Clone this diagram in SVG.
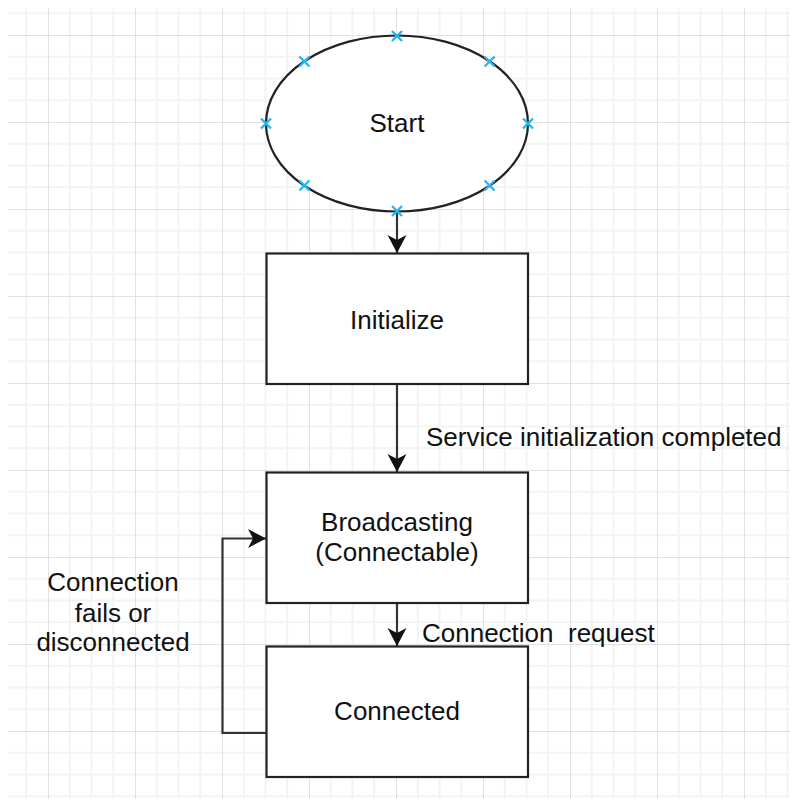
<svg xmlns="http://www.w3.org/2000/svg" width="790" height="799" viewBox="0 0 790 799">
  <style>
    .node { fill: #ffffff; stroke: #222222; stroke-width: 2.2; }
    .edge { fill: none; stroke: #333333; stroke-width: 2.2; }
    .label { font-family: "Liberation Sans", Arial, sans-serif; font-size: 26px; fill: #111111; }
    .mid { text-anchor: middle; }
    .pt { stroke: #29b6f2; stroke-width: 2.4; fill: none; }
  </style>
  <defs>
    <!-- background grid: minor every 21.75px, major every 87px -->
    <pattern id="grid" patternUnits="userSpaceOnUse" x="48" y="35" width="87" height="87">
      <path d="M21.75,0 V87 M43.5,0 V87 M65.25,0 V87 M0,21.75 H87 M0,43.5 H87 M0,65.25 H87" stroke="#f3f3f3" stroke-width="2"/>
      <path d="M0,0 V87 M0,0 H87" stroke="#e1e1e1" stroke-width="2"/>
    </pattern>
    <marker id="arrow" markerUnits="userSpaceOnUse" viewBox="-19 -10 20 20" refX="0" refY="0" markerWidth="20" markerHeight="20" orient="auto">
      <path d="M0,0 L-18,-9.5 L-13,0 L-18,9.5 Z" fill="#111111"/>
    </marker>
    <path id="xmark" d="M-5,-5 L5,5 M-5,5 L5,-5" class="pt"/>
  </defs>

  <rect x="0" y="0" width="790" height="799" fill="#ffffff"/>
  <rect x="8" y="8" width="782" height="791" fill="url(#grid)"/>

  <g id="connectors">
    <path class="edge" d="M397,212 L397,253" marker-end="url(#arrow)"/>
    <path class="edge" d="M397,384.5 L397,472" marker-end="url(#arrow)"/>
    <path class="edge" d="M397,603 L397,646" marker-end="url(#arrow)"/>
    <path class="edge" d="M266.5,733 L222.5,733 L222.5,538.5 L266,538.5" marker-end="url(#arrow)"/>
  </g>

  <g id="start">
    <ellipse class="node" cx="397" cy="123.5" rx="131" ry="88"/>
    <text class="label mid" x="397" y="132">Start</text>
    <use href="#xmark" x="397" y="36"/>
    <use href="#xmark" x="489.6" y="61.5"/>
    <use href="#xmark" x="528" y="123.5"/>
    <use href="#xmark" x="489.6" y="185.5"/>
    <use href="#xmark" x="397" y="211"/>
    <use href="#xmark" x="304.4" y="185.5"/>
    <use href="#xmark" x="266" y="123.5"/>
    <use href="#xmark" x="304.4" y="61.5"/>
  </g>

  <g id="initialize">
    <rect class="node" x="266.5" y="253.5" width="261.5" height="130.5"/>
    <text class="label mid" x="397" y="329">Initialize</text>
  </g>

  <g id="broadcasting">
    <rect class="node" x="266.5" y="472.5" width="261.5" height="130.5"/>
    <text class="label mid" x="397" y="531">Broadcasting</text>
    <text class="label mid" x="397" y="561">(Connectable)</text>
  </g>

  <g id="connected">
    <rect class="node" x="266.5" y="646.5" width="261.5" height="130.5"/>
    <text class="label mid" x="397" y="720">Connected</text>
  </g>

  <g id="edge-labels">
    <text class="label" x="426" y="446">Service initialization completed</text>
    <text class="label" x="422" y="642" xml:space="preserve">Connection  request</text>
    <text class="label mid" x="113" y="590.5">Connection</text>
    <text class="label mid" x="113" y="621.5">fails or</text>
    <text class="label mid" x="113" y="650.5">disconnected</text>
  </g>
</svg>
